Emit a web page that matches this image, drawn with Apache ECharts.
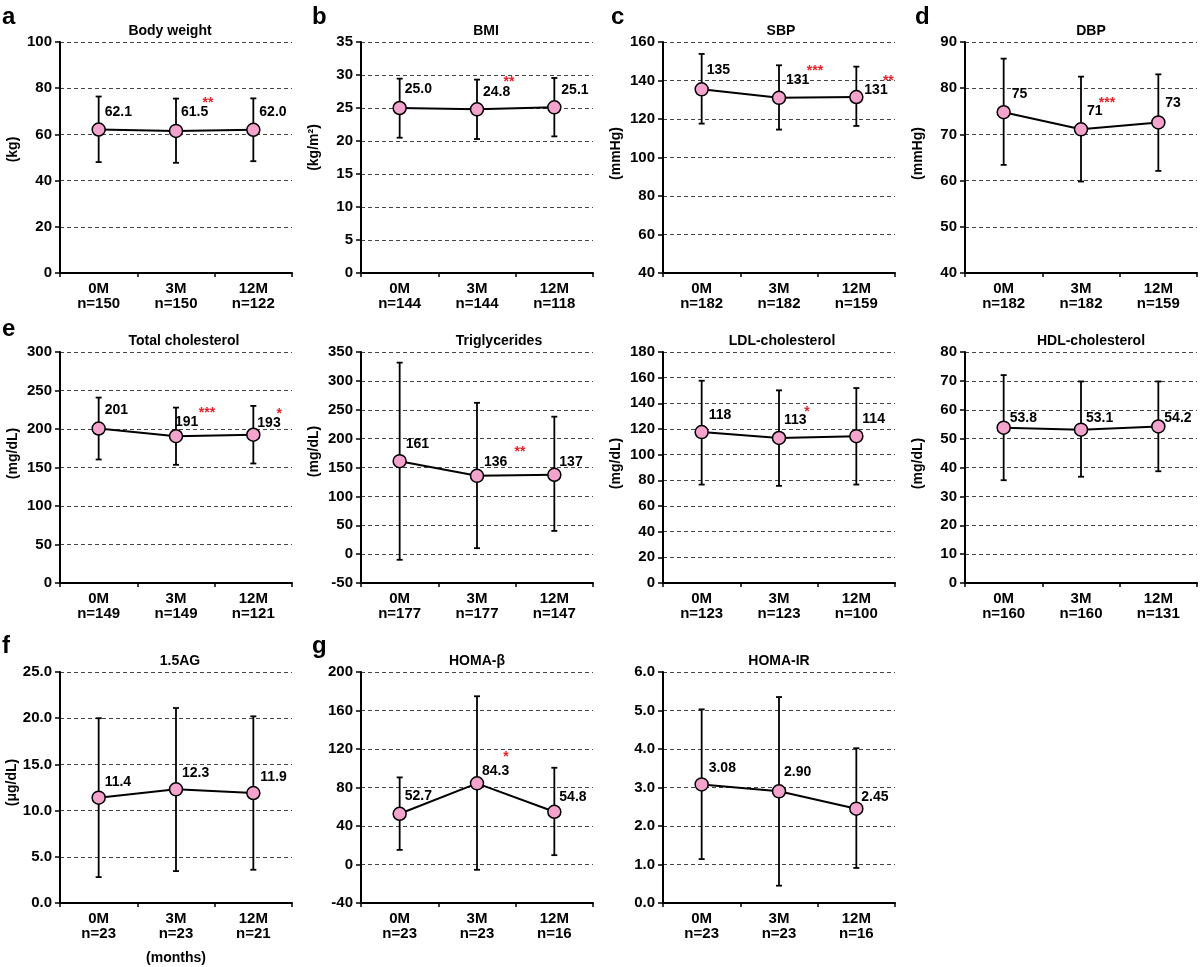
<!DOCTYPE html>
<html><head><meta charset="utf-8">
<script src="https://cdn.jsdelivr.net/npm/echarts@6/dist/echarts.min.js"></script>
<style>html,body{margin:0;padding:0;background:#fff}#c{width:1200px;height:967px}</style>
</head><body><div id="c"></div>
<script>
const months = ['0M', '3M', '12M'];

// a Body weight
const bwN = [150, 150, 122];
const bwMean = [62.1, 61.5, 62.0];
const bwLow = [48.0, 47.7, 48.4];
const bwHigh = [76.4, 75.5, 75.6];
const bwSig = ['', '**', ''];
// b BMI
const bmiN = [144, 144, 118];
const bmiMean = [25.0, 24.8, 25.1];
const bmiLow = [20.5, 20.3, 20.7];
const bmiHigh = [29.45, 29.3, 29.55];
const bmiSig = ['', '**', ''];
// c SBP
const sbpN = [182, 182, 159];
const sbpMean = [135.4, 131.0, 131.4];
const sbpLow = [117.6, 114.5, 116.4];
const sbpHigh = [153.8, 147.9, 147.2];
const sbpSig = ['', '***', '**'];
// d DBP
const dbpN = [182, 182, 159];
const dbpMean = [74.8, 71.1, 72.6];
const dbpLow = [63.4, 59.8, 62.1];
const dbpHigh = [86.4, 82.5, 83.0];
const dbpSig = ['', '***', ''];
// e Total cholesterol
const tcN = [149, 149, 121];
const tcMean = [200.6, 190.6, 192.6];
const tcLow = [160.4, 153.5, 155.2];
const tcHigh = [240.8, 227.8, 230.0];
const tcSig = ['', '***', '*'];
// Triglycerides
const tgN = [177, 177, 147];
const tgMean = [161, 135.6, 137.4];
const tgLow = [-9.8, 10.3, 40.2];
const tgHigh = [331.6, 262.0, 238.0];
const tgSig = ['', '**', ''];
// LDL-cholesterol
const ldlN = [123, 123, 100];
const ldlMean = [117.6, 113.0, 114.4];
const ldlLow = [76.7, 75.7, 76.7];
const ldlHigh = [157.6, 150.1, 151.9];
const ldlSig = ['', '*', ''];
// HDL-cholesterol
const hdlN = [160, 160, 131];
const hdlMean = [53.8, 53.1, 54.2];
const hdlLow = [35.6, 36.8, 38.7];
const hdlHigh = [72.0, 69.8, 69.8];
const hdlSig = ['', '', ''];
// f 1.5AG
const agN = [23, 23, 21];
const agMean = [11.4, 12.3, 11.9];
const agLow = [2.8, 3.45, 3.6];
const agHigh = [20.0, 21.1, 20.2];
const agSig = ['', '', ''];
// g HOMA-beta
const hbN = [23, 23, 16];
const hbMean = [52.7, 84.3, 54.8];
const hbLow = [15.2, -5.5, 9.7];
const hbHigh = [90.5, 174.8, 100.5];
const hbSig = ['', '*', ''];
// HOMA-IR
const irN = [23, 23, 16];
const irMean = [3.08, 2.90, 2.45];
const irLow = [1.14, 0.45, 0.91];
const irHigh = [5.03, 5.35, 4.02];
const irSig = ['', '', ''];

const FONT = '"Liberation Sans", Arial, Helvetica, sans-serif';
const PINK = '#F4A3CC';
const RED = '#E3242B';
const colLeft = [60, 361, 663, 965];
const rowTop = [42, 352, 672];
const PW = 232, PH = 231;

const panels = [
  {letter:'a', title:'Body weight', tdx:-6, unit:'(kg)', ushift:8, n:bwN, mean:bwMean, low:bwLow, high:bwHigh, sig:bwSig, min:0, max:100, interval:20, dec:1, tdec:0, row:0, col:0,
   lab:[[6,-17],[5,-19],[6,-18]], star:[null,[32,-28],null]},
  {letter:'b', title:'BMI', tdx:9, unit:'(kg/m²)', ushift:10, n:bmiN, mean:bmiMean, low:bmiLow, high:bmiHigh, sig:bmiSig, min:0, max:35, interval:5, dec:1, tdec:0, row:0, col:1,
   lab:[[5,-19],[6,-17],[7,-17]], star:[null,[32,-27],null]},
  {letter:'c', title:'SBP', tdx:2, unit:'(mmHg)', ushift:4, n:sbpN, mean:sbpMean, low:sbpLow, high:sbpHigh, sig:sbpSig, min:40, max:160, interval:20, dec:0, tdec:0, row:0, col:2,
   lab:[[5,-19],[7,-18],[8,-7]], star:[null,[36,-27],[32,-16]]},
  {letter:'d', title:'DBP', tdx:10, unit:'(mmHg)', ushift:4, n:dbpN, mean:dbpMean, low:dbpLow, high:dbpHigh, sig:dbpSig, min:40, max:90, interval:10, dec:0, tdec:0, row:0, col:3,
   lab:[[8,-18],[6,-18],[7,-19]], star:[null,[26,-26],null]},
  {letter:'e', title:'Total cholesterol', tdx:8, unit:'(mg/dL)', ushift:14, n:tcN, mean:tcMean, low:tcLow, high:tcHigh, sig:tcSig, min:0, max:300, interval:50, dec:0, tdec:0, row:1, col:0,
   lab:[[6,-18],[-1,-14],[4,-12]], star:[null,[31,-23],[26,-21]]},
  {letter:'', title:'Triglycerides', tdx:22, unit:'(mg/dL)', ushift:16, n:tgN, mean:tgMean, low:tgLow, high:tgHigh, sig:tgSig, min:-50, max:350, interval:50, dec:0, tdec:0, row:1, col:1,
   lab:[[6,-17],[7,-14],[5,-13]], star:[null,[43,-24],null]},
  {letter:'', title:'LDL-cholesterol', tdx:3, unit:'(mg/dL)', ushift:4, n:ldlN, mean:ldlMean, low:ldlLow, high:ldlHigh, sig:ldlSig, min:0, max:180, interval:20, dec:0, tdec:0, row:1, col:2,
   lab:[[7,-17],[5,-18],[6,-17]], star:[null,[28,-26],null]},
  {letter:'', title:'HDL-cholesterol', tdx:10, unit:'(mg/dL)', ushift:4, n:hdlN, mean:hdlMean, low:hdlLow, high:hdlHigh, sig:hdlSig, min:0, max:80, interval:10, dec:1, tdec:0, row:1, col:3,
   lab:[[6,-10],[5,-12],[6,-8]], star:[null,null,null]},
  {letter:'f', title:'1.5AG', tdx:4, unit:'(μg/dL)', ushift:5, n:agN, mean:agMean, low:agLow, high:agHigh, sig:agSig, min:0, max:25, interval:5, dec:1, tdec:1, row:2, col:0,
   lab:[[6,-16],[6,-16],[7,-16]], star:[null,null,null]},
  {letter:'g', title:'HOMA-β', tdx:0, unit:'', ushift:0, n:hbN, mean:hbMean, low:hbLow, high:hbHigh, sig:hbSig, min:-40, max:200, interval:40, dec:1, tdec:0, row:2, col:1,
   lab:[[5,-18],[5,-12],[5,-15]], star:[null,[29,-26],null]},
  {letter:'', title:'HOMA-IR', tdx:0, unit:'', ushift:0, n:irN, mean:irMean, low:irLow, high:irHigh, sig:irSig, min:0, max:6, interval:1, dec:2, tdec:1, row:2, col:2,
   lab:[[7,-16],[5,-19],[5,-12]], star:[null,null,null]}
];

const letterX = [2, 312, 611, 915];
const letterY = [29, 341, 658];

const grids = [], xAxes = [], yAxes = [], series = [], graphics = [];

panels.forEach((p, k) => {
  const left = colLeft[p.col], top = rowTop[p.row];
  grids.push({left: left, top: top, width: PW, height: PH});
  xAxes.push({
    type: 'category', gridIndex: k, data: months, boundaryGap: true,
    axisLine: {show: true, onZero: false, lineStyle: {color: '#000', width: 2}},
    axisTick: {show: true, length: 4, lineStyle: {color: '#000', width: 1.5}},
    axisLabel: {formatter: (v, i) => v + '\nn=' + p.n[i], color: '#000', fontWeight: 'bold', fontSize: 15, lineHeight: 15, margin: 8, fontFamily: FONT},
    splitLine: {show: false}
  });
  yAxes.push({
    type: 'value', gridIndex: k, min: p.min, max: p.max, interval: p.interval,
    axisLine: {show: true, onZero: false, lineStyle: {color: '#000', width: 2}},
    axisTick: {show: true, length: 5, lineStyle: {color: '#000', width: 1.5}},
    axisLabel: {formatter: v => v.toFixed(p.tdec), color: '#000', fontWeight: 'bold', fontSize: 15, margin: 8, fontFamily: FONT},
    splitLine: {show: true, lineStyle: {type: [4, 3], color: '#444', width: 1}},
    name: p.unit, nameLocation: 'middle', nameRotate: 90, nameGap: 40,
    nameTextStyle: {color: '#000', fontWeight: 'bold', fontSize: 14, fontFamily: FONT, padding: [0, 0, 0, 2 * p.ushift]}
  });
  // error bars
  series.push({
    type: 'custom', xAxisIndex: k, yAxisIndex: k, z: 2, animation: false,
    data: months.map((m, i) => [i, p.low[i], p.high[i]]),
    encode: {x: 0, y: [1, 2]},
    renderItem: (params, api) => {
      const x = api.value(0);
      const lo = api.coord([x, api.value(1)]);
      const hi = api.coord([x, api.value(2)]);
      const w = 3;
      const st = {stroke: '#000', lineWidth: 1.8};
      return {type: 'group', children: [
        {type: 'line', shape: {x1: hi[0], y1: hi[1], x2: lo[0], y2: lo[1]}, style: st},
        {type: 'line', shape: {x1: hi[0] - w, y1: hi[1], x2: hi[0] + w, y2: hi[1]}, style: st},
        {type: 'line', shape: {x1: lo[0] - w, y1: lo[1], x2: lo[0] + w, y2: lo[1]}, style: st}
      ]};
    }
  });
  // means
  series.push({
    type: 'line', xAxisIndex: k, yAxisIndex: k, z: 3, animation: false,
    data: p.mean, symbol: 'circle', symbolSize: 13,
    itemStyle: {color: PINK, borderColor: '#000', borderWidth: 1.5},
    lineStyle: {color: '#000', width: 2}
  });
  // value labels and significance stars
  series.push({
    type: 'custom', xAxisIndex: k, yAxisIndex: k, z: 4, animation: false,
    data: months.map((m, i) => [i, p.mean[i]]),
    encode: {x: 0, y: 1},
    renderItem: (params, api) => {
      const i = params.dataIndex;
      const pt = api.coord([api.value(0), api.value(1)]);
      const lo = p.lab[i];
      const children = [{
        type: 'text', x: pt[0] + lo[0], y: pt[1] + lo[1],
        style: {text: p.mean[i].toFixed(p.dec), fill: '#000', font: 'bold 14px ' + FONT,
          textAlign: 'left', align: 'left', textVerticalAlign: 'middle', verticalAlign: 'middle'}
      }];
      if (p.sig[i]) {
        const so = p.star[i] || [30, -26];
        children.push({
          type: 'text', x: pt[0] + so[0], y: pt[1] + so[1],
          style: {text: p.sig[i], fill: RED, font: 'bold 14px ' + FONT,
            textAlign: 'center', align: 'center', textVerticalAlign: 'middle', verticalAlign: 'middle'}
        });
      }
      return {type: 'group', children: children};
    }
  });
  // title
  graphics.push({type: 'text', x: left + PW / 2 + p.tdx, y: top - 11,
    style: {text: p.title, fill: '#000', font: 'bold 14px ' + FONT, textAlign: 'center', align: 'center', textVerticalAlign: 'middle', verticalAlign: 'middle'}});
  if (p.letter) {
    graphics.push({type: 'text', x: letterX[p.col], y: letterY[p.row],
      style: {text: p.letter, fill: '#000', font: 'bold 24px ' + FONT, textAlign: 'left', align: 'left', textVerticalAlign: 'bottom', verticalAlign: 'bottom'}});
  }
});

graphics.push({type: 'text', x: colLeft[0] + PW / 2, y: 958,
  style: {text: '(months)', fill: '#000', font: 'bold 14px ' + FONT, textAlign: 'center', align: 'center', textVerticalAlign: 'middle', verticalAlign: 'middle'}});

const chart = echarts.init(document.getElementById('c'), null, {renderer: 'canvas'});
chart.setOption({
  animation: false,
  backgroundColor: '#fff',
  textStyle: {fontFamily: FONT},
  grid: grids, xAxis: xAxes, yAxis: yAxes, series: series,
  graphic: {elements: graphics}
});
</script></body></html>
